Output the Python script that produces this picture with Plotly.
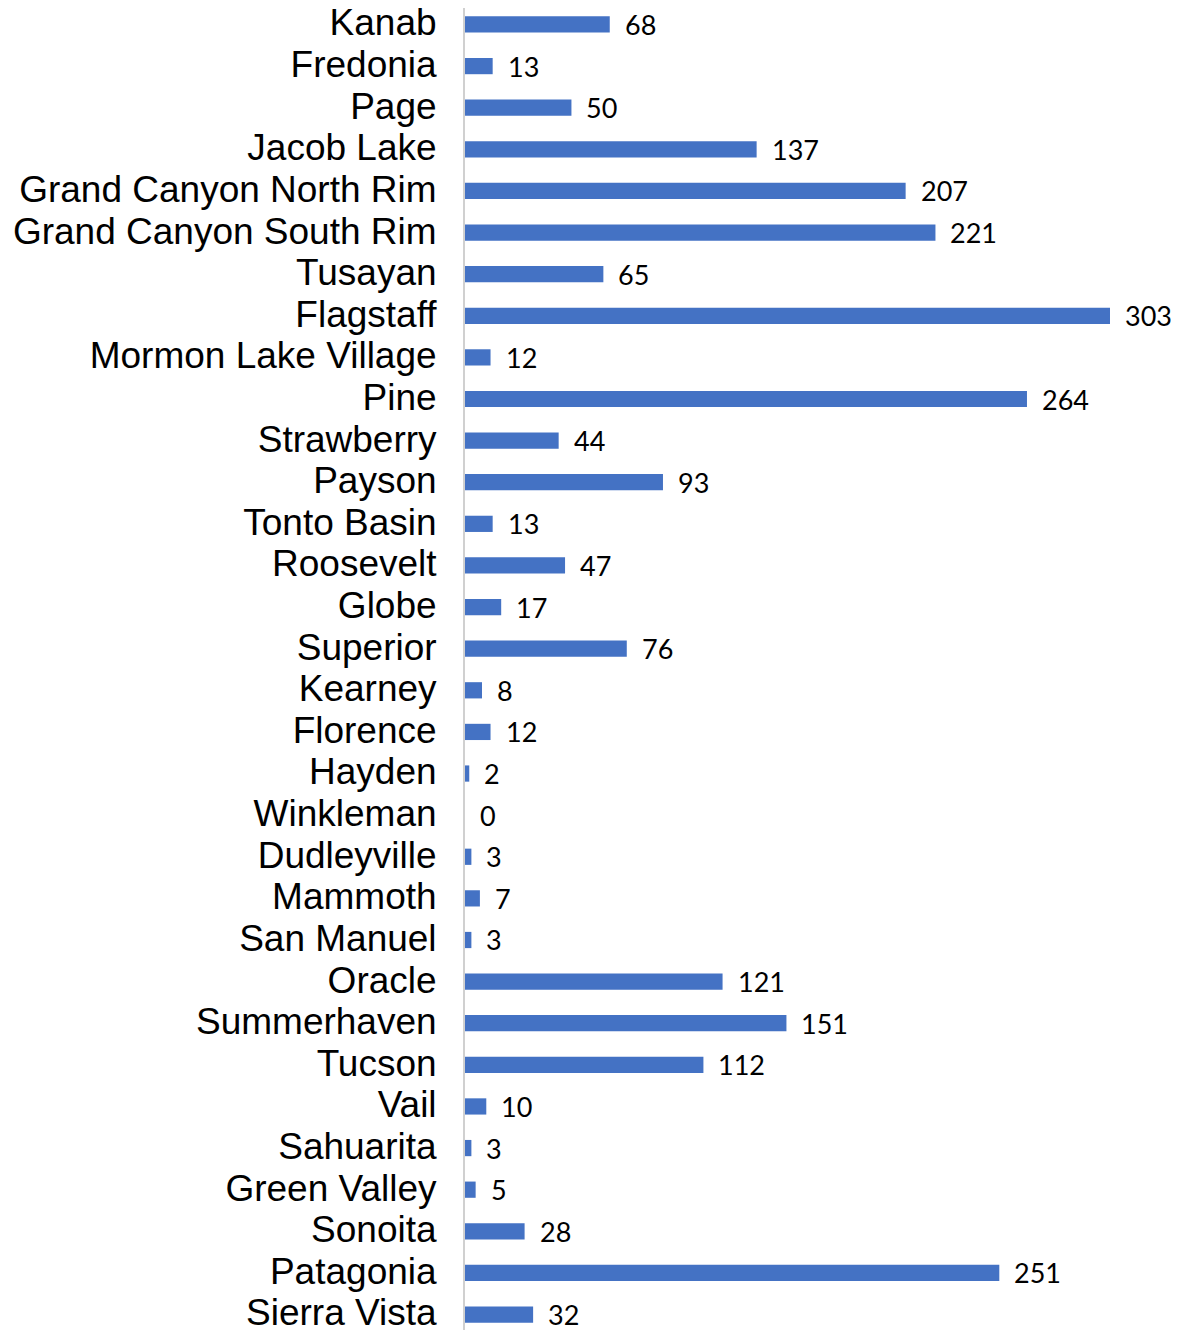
import plotly.graph_objects as go

towns = ["Kanab", "Fredonia", "Page", "Jacob Lake", "Grand Canyon North Rim",
         "Grand Canyon South Rim", "Tusayan", "Flagstaff", "Mormon Lake Village",
         "Pine", "Strawberry", "Payson", "Tonto Basin", "Roosevelt", "Globe",
         "Superior", "Kearney", "Florence", "Hayden", "Winkleman", "Dudleyville",
         "Mammoth", "San Manuel", "Oracle", "Summerhaven", "Tucson", "Vail",
         "Sahuarita", "Green Valley", "Sonoita", "Patagonia", "Sierra Vista"]
values = [68, 13, 50, 137, 207, 221, 65, 303, 12, 264, 44, 93, 13, 47, 17,
          76, 8, 12, 2, 0, 3, 7, 3, 121, 151, 112, 10, 3, 5, 28, 251, 32]

fig = go.Figure()
fig.add_trace(go.Bar(
    x=values, y=towns, orientation="h",
    marker=dict(color="#4472C4", line=dict(width=0)),
    width=0.39,
))

for t, v in zip(towns, values):
    fig.add_annotation(x=v, y=t, text=str(v), showarrow=False,
                       xanchor="left", yanchor="middle", xshift=13, yshift=0,
                       font=dict(family="Lato", size=27, color="#000000"))

n = len(towns)
fig.update_layout(
    width=1173, height=1322,
    margin=dict(l=457, r=71, t=0, b=0, autoexpand=False),
    plot_bgcolor="white", paper_bgcolor="white",
    showlegend=False,
    xaxis=dict(range=[0, 303], visible=False, fixedrange=True, automargin=False),
    yaxis=dict(
        type="category", automargin=False,
        categoryorder="array", categoryarray=towns,
        tickmode="array", tickvals=towns, ticktext=towns,
        range=[n - 1 + 0.372, -0.396],
        showline=True, linecolor="#d0d0d0", linewidth=2,
        showgrid=False, ticks="", ticklabelstandoff=19,
        ticklabelshift=2,
        tickfont=dict(family="Liberation Sans", size=37, color="#000000"),
    ),
)

fig.write_html("out.html")
